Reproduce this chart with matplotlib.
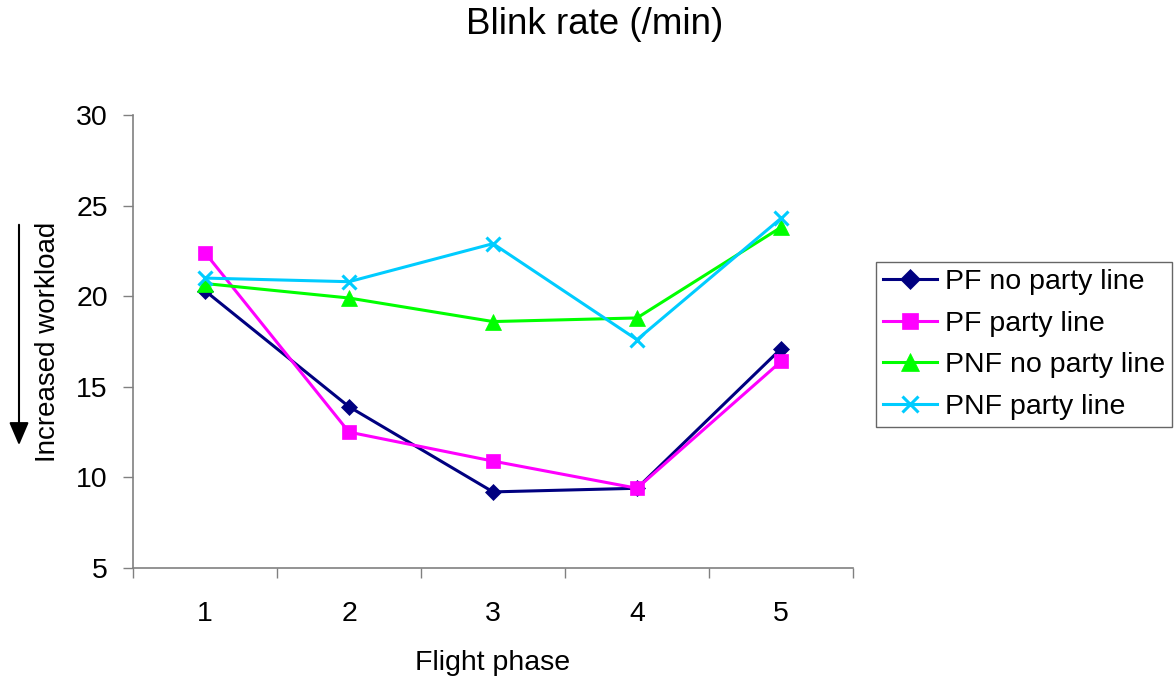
import matplotlib
matplotlib.use("Agg")
import matplotlib.pyplot as plt
from matplotlib.ticker import FixedLocator

plt.rcParams['font.family'] = ['Liberation Sans', 'DejaVu Sans']

phases = [1, 2, 3, 4, 5]
phase_labels = ['1', '2', '3', '4', '5']
pf_no_party = [20.3, 13.9, 9.2, 9.4, 17.1]
pf_party = [22.4, 12.5, 10.9, 9.4, 16.4]
pnf_no_party = [20.7, 19.9, 18.6, 18.8, 23.8]
pnf_party = [21.0, 20.8, 22.9, 17.6, 24.3]

series = [
    ("PF no party line", pf_no_party, "#000080", "D", 8.5),
    ("PF party line", pf_party, "#FF00FF", "s", 10),
    ("PNF no party line", pnf_no_party, "#00FF00", "^", 11),
    ("PNF party line", pnf_party, "#00CCFF", "x", 10.5),
]

fig = plt.figure(figsize=(11.76, 6.79), dpi=100)
ax = fig.add_axes([133 / 1176, 1 - 568 / 679, 720 / 1176, 453 / 679])

for name, vals, color, marker, ms in series:
    ax.plot(phases, vals, color=color, marker=marker, markersize=ms,
            linewidth=2.2, markeredgewidth=2.2 if marker == "x" else 0.5,
            markeredgecolor=color, label=name)

ax.set_xlim(0.5, 5.5)
ax.set_ylim(5, 30)
ax.set_yticks([5, 10, 15, 20, 25, 30])
ax.set_xticks(phases)
ax.set_xticklabels(phase_labels)
ax.xaxis.set_minor_locator(FixedLocator([0.5, 1.5, 2.5, 3.5, 4.5, 5.5]))
ax.tick_params(axis='x', which='major', length=0, pad=24, labelsize=20.5)
ax.tick_params(axis='x', which='minor', length=7, width=1, color='#808080', direction='out')
ax.tick_params(axis='y', which='major', length=7, width=1, color='#808080',
               direction='out', pad=11, labelsize=20.5)

for side in ('top', 'right'):
    ax.spines[side].set_visible(False)
for side in ('left', 'bottom'):
    ax.spines[side].set_color('#808080')
    ax.spines[side].set_linewidth(1.2)

ax.set_xlabel("Flight phase", fontsize=20.5, labelpad=16)

fig.text(595 / 1176, 1 - 25 / 679, "Blink rate (/min)", fontsize=26.5,
         ha='center', va='center')

# workload annotation with downward arrow
fig.text(48 / 1176, 1 - 342 / 679, "Increased workload", fontsize=20,
         rotation=90, ha='center', va='center')
fig.add_artist(matplotlib.patches.FancyArrowPatch(
    (19 / 1176, 1 - 222 / 679), (19 / 1176, 1 - 448 / 679),
    transform=fig.transFigure, arrowstyle='-|>,head_length=14,head_width=6',
    mutation_scale=1, color='black', linewidth=1.5))

leg = ax.legend(loc='upper left', bbox_to_anchor=(876 / 1176, 1 - 262 / 679),
                bbox_transform=fig.transFigure, fontsize=20.5, frameon=True,
                fancybox=False, borderpad=0.25,
                labelspacing=0.55, handlelength=1.9, handletextpad=0.28,
                borderaxespad=0, markerscale=1.15)
leg._legend_box.sep = 0
leg.get_frame().set_linewidth(1.0)
leg.get_frame().set_edgecolor('#404040')

fig.savefig("out.png", dpi=100)
